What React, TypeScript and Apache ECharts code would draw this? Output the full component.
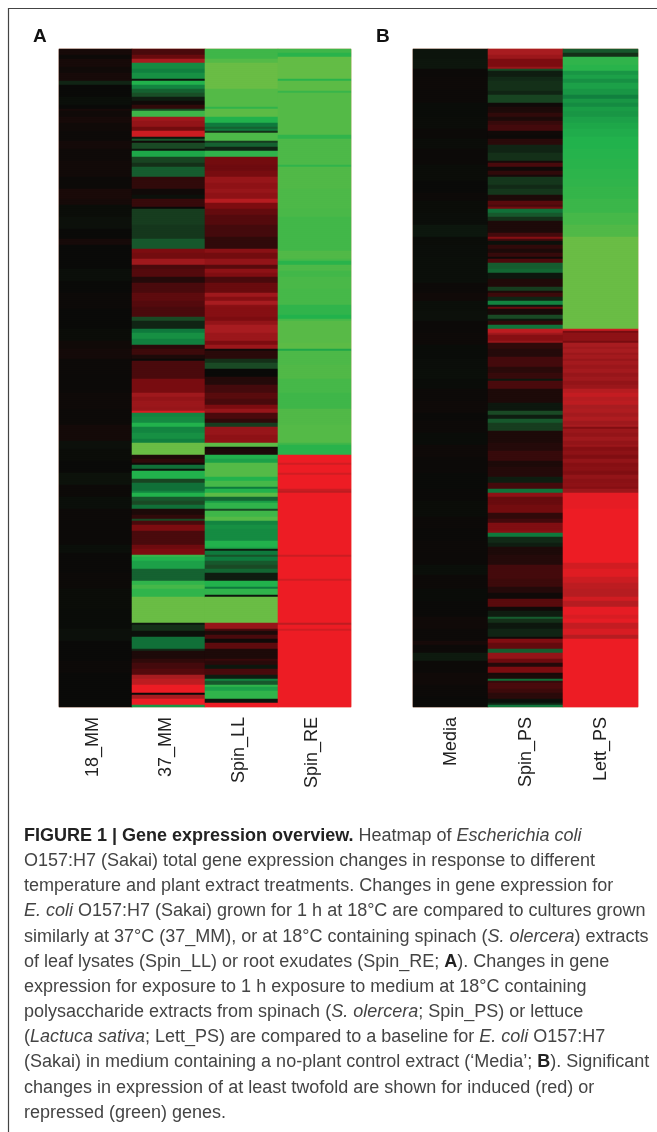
import React, { useEffect, useRef } from "react";
import * as echarts from "echarts";

type Run = [number, number];

const ROWS = 329;
const categoriesA = ["18_MM", "37_MM", "Spin_LL", "Spin_RE"];
const categoriesB = ["Media", "Spin_PS", "Lett_PS"];

const mm18: Run[] = [[3,.2],[5,.05],[9,.2],[12,.1],[16,.2],[18,-.4],[24,0],[28,-.08],[30,0],[31,.2],[34,.1],[37,.2],[41,.1],[46,.05],[50,.15],[56,.08],[64,.12],[70,.03],[75,.25],[78,.18],[84,-.05],[90,-.1],[95,0],[98,.2],[105,0],[110,0],[116,-.08],[122,0],[130,.05],[140,0],[146,-.05],[150,.1],[155,.15],[163,.05],[172,.03],[180,.08],[188,.05],[196,.15],[200,-.1],[206,-.05],[212,0],[218,-.12],[224,.05],[230,-.08],[236,.05],[248,.03],[252,-.08],[262,.02],[270,.05],[280,-.05],[290,-.03],[296,-.1],[306,0],[312,.05],[329,0]];
const mm37: Run[] = [[3,1],[5,1.6],[7,3],[10,-2.3],[12,-2.1],[15,-2.4],[16,-.2],[18,-3],[20,-2.2],[22,-1.5],[24,-1.1],[26,-.3],[28,.1],[30,.6],[31,-1],[34,-3.4],[36,2.8],[39,2.5],[41,1.8],[44,3.5],[45,-.2],[46,-1.2],[47,.1],[50,-1],[51,-.2],[54,-2.8],[57,-.9],[59,-.6],[64,-1.4],[70,.6],[73,.1],[75,-.1],[79,.7],[80,0],[88,-.8],[95,-.7],[100,-1.3],[102,2],[105,1.8],[108,2.8],[110,1],[114,1.2],[117,.4],[122,1],[126,1.4],[129,1.2],[134,1],[136,-1],[140,-.4],[142,-2],[145,-2.4],[148,-2.1],[150,.5],[153,.8],[155,.3],[156,0],[165,1],[172,1.9],[174,2.8],[176,2.5],[179,2.7],[181,2.6],[182,3.7],[184,-2.2],[187,-2.3],[189,-3],[192,-2.2],[195,-2.4],[197,-2.1],[203,-4],[205,.3],[207,.6],[208,.1],[210,-1.8],[211,-.2],[215,-3],[217,-.9],[221,-1.8],[222,-2.2],[224,-3],[226,-1.3],[228,-1],[230,-1.8],[233,.3],[235,.6],[236,-1],[238,1],[241,2],[248,1],[250,1.7],[253,2],[254,-3.3],[256,-3],[260,-2.7],[266,-1.5],[268,-3.2],[270,-3.5],[274,-3.2],[287,-4],[288,-.2],[291,-.6],[294,-.1],[300,-1.8],[301,-.5],[305,.3],[307,.6],[310,.9],[313,1.2],[315,3],[318,3.3],[322,4],[323,0],[325,3],[328,4],[329,-2.5]];
const spinLL: Run[] = [[5,-3.4],[7,-3.7],[20,-4],[29,-3.7],[30,-3.2],[34,-3.8],[37,-3],[39,-2],[40,-1.5],[41,-2],[42,-.6],[46,-3.6],[47,-.8],[49,-1.5],[51,-.4],[54,-3.2],[58,1.8],[61,1.7],[64,1.9],[67,2.6],[70,2.4],[72,2.6],[75,2.4],[77,3.2],[80,2],[83,1.5],[88,1.2],[94,.9],[100,.6],[102,2.3],[105,1.8],[108,2.5],[110,1.3],[112,2.4],[114,2.1],[117,1],[122,1.6],[124,2.8],[126,2.2],[128,3],[129,2.3],[134,2.2],[136,2],[138,2.5],[142,3],[146,2.7],[148,2],[150,2.7],[151,.1],[155,.5],[157,-.6],[160,-1],[164,0],[168,.4],[172,.9],[175,1.3],[178,1],[180,2],[182,2.6],[185,1],[187,.6],[189,-.8],[193,2.6],[197,2.4],[199,-3.8],[200,.1],[203,.3],[205,-3],[207,-2.7],[214,-3.7],[216,-3],[219,-3.5],[220,-2],[222,-3],[224,-3.8],[226,-1.6],[227,-2.6],[230,-3.2],[231,-1],[234,-3.4],[236,-3.7],[238,-2.2],[240,-2.4],[246,-2.3],[249,-3],[250,-2.8],[251,-.3],[253,-2],[254,-1.2],[256,-2],[258,-1.3],[260,-1],[262,-1.6],[266,-.3],[269,-3],[270,-2],[273,-3.2],[274,-.2],[287,-4],[290,2.6],[291,1],[293,.3],[295,1],[297,.1],[300,1.4],[305,.3],[306,.7],[308,.5],[310,-.2],[313,1],[315,-.3],[316,-2.2],[318,-1.3],[319,-3.2],[321,-2.7],[325,-3.2],[327,-.2],[329,4]];
const spinRE: Run[] = [[2,-3.4],[4,-3.1],[15,-3.9],[16,-3.1],[21,-3.8],[22,-3.3],[43,-3.7],[45,-3.2],[47,-3.6],[58,-3.6],[59,-3.2],[70,-3.65],[80,-3.6],[84,-3.55],[101,-3.45],[105,-3.65],[106,-3.5],[108,-3.1],[111,-3.6],[114,-3.45],[120,-3.55],[128,-3.5],[133,-3.2],[135,-3],[136,-3.5],[147,-3.75],[150,-3.8],[151,-2.8],[152,-3.6],[158,-3.6],[165,-3.65],[172,-3.5],[180,-3.4],[188,-3.65],[197,-3.7],[198,-3.4],[203,-3.1],[207,4],[208,3.6],[212,4],[213,3.6],[220,4],[221,3.5],[222,3.3],[253,4],[254,3.5],[265,4],[266,3.6],[287,4],[288,3.3],[290,4],[291,3.6],[329,4]];

const media: Run[] = [[5,-.15],[10,-.18],[14,.03],[20,.06],[27,.05],[34,-.03],[40,-.05],[45,.03],[50,-.05],[58,.03],[66,-.05],[72,0],[76,.05],[82,-.05],[88,-.06],[94,-.2],[98,-.05],[104,-.06],[111,-.08],[117,-.08],[122,.04],[126,.1],[131,-.08],[136,-.1],[142,.03],[148,.06],[155,-.03],[160,-.06],[165,-.08],[170,-.03],[176,.05],[182,.08],[186,.02],[192,.05],[198,-.03],[204,.08],[212,.03],[220,-.01],[226,.01],[234,-.05],[240,.05],[246,.02],[252,.05],[258,.03],[263,-.08],[270,.05],[276,-.03],[284,.02],[290,.1],[296,.05],[298,.2],[302,.05],[306,-.25],[312,.03],[318,.1],[324,.05],[329,.02]];
const spinPS: Run[] = [[3,3],[5,2.7],[9,2],[10,2.6],[11,-1],[14,-.3],[16,-.5],[21,-.6],[23,-.4],[27,-.9],[29,.1],[32,.3],[34,.6],[36,.3],[38,.7],[41,.9],[43,.1],[45,.05],[48,.5],[52,-.4],[56,-.6],[57,.2],[59,1],[61,.1],[63,.6],[64,.2],[68,-.7],[70,-.5],[73,-.7],[76,.3],[78,1.3],[79,1],[80,1.8],[82,-1.8],[84,-1.3],[86,-.6],[92,.3],[94,.9],[95,2.2],[96,.9],[98,-.1],[100,.6],[102,.3],[104,.7],[105,.1],[107,1.1],[110,-1.4],[112,-1.6],[115,-.2],[119,.35],[121,-.8],[122,.3],[124,.8],[126,-.4],[128,-2.2],[129,-.2],[130,1.6],[133,.2],[135,-1],[136,-.2],[138,.6],[140,-1.9],[142,3.3],[143,2.8],[146,2.2],[147,2.6],[150,.6],[154,.4],[159,.9],[162,.5],[165,.7],[166,-.2],[170,1],[177,.3],[181,-.2],[183,-1],[185,-.3],[187,-1.3],[191,-.8],[197,.3],[201,.4],[206,.7],[209,.3],[214,.4],[217,-.3],[220,.9],[222,-1.9],[224,2.4],[228,1.6],[232,1.8],[235,.6],[237,.9],[241,2.1],[242,2.3],[244,-2],[247,-.5],[249,-.3],[253,.3],[258,.4],[265,.9],[269,.8],[272,.4],[275,.1],[279,1.3],[281,.1],[284,-.3],[285,-1.4],[287,-.6],[290,-.2],[294,-.4],[295,.1],[297,2.1],[300,1.5],[302,-1.4],[305,2.5],[307,1.7],[309,.4],[312,2],[313,.2],[315,.3],[316,-1.8],[317,.7],[320,1],[322,.8],[325,.5],[327,-.1],[328,-.4],[329,-1.9]];
const lettPS: Run[] = [[2,-1.3],[4,-.6],[8,-3.2],[11,-3.1],[13,-2.5],[15,-2.7],[17,-2.4],[20,-2.7],[23,-2.5],[25,-2.1],[27,-2.5],[29,-2.3],[31,-2.6],[34,-2.5],[37,-2.7],[40,-2.8],[44,-2.9],[50,-3],[55,-3.05],[60,-3.1],[65,-3.15],[69,-3.2],[75,-3.25],[82,-3.35],[88,-3.5],[94,-3.65],[140,-4],[141,3.5],[142,1.9],[146,2.4],[147,1.9],[149,3],[150,2.8],[152,3],[153,2.7],[155,2.9],[156,2.6],[158,2.9],[160,2.7],[162,2.9],[164,2.6],[166,2.8],[168,2.5],[170,2.7],[172,3.2],[174,3.4],[176,3.2],[178,3.3],[180,3],[182,3.1],[184,2.9],[186,3.1],[188,2.8],[189,3],[190,2.1],[192,2.7],[194,2.5],[196,2.8],[198,2.5],[199,2.7],[201,2.2],[203,2.4],[205,2.1],[207,2.5],[209,2.2],[211,2.3],[213,2.1],[215,2.5],[217,2.3],[219,2.4],[220,2.2],[222,2.7],[230,3.9],[257,4],[260,3.6],[264,3.8],[267,3.5],[270,3.3],[274,3.2],[276,3.6],[279,3.2],[283,3.9],[285,3.7],[287,3.9],[290,3.4],[293,3.7],[295,3.2],[329,4]];

// Caption lines, with ECharts rich-text markers for bold and italic runs.
const caption = [
  "{b|FIGURE 1 | Gene expression overview.} Heatmap of {i|Escherichia coli}",
  "O157:H7 (Sakai) total gene expression changes in response to different",
  "temperature and plant extract treatments. Changes in gene expression for",
  "{i|E. coli} O157:H7 (Sakai) grown for 1 h at 18°C are compared to cultures grown",
  "similarly at 37°C (37_MM), or at 18°C containing spinach ({i|S. olercera}) extracts",
  "of leaf lysates (Spin_LL) or root exudates (Spin_RE; {b|A}). Changes in gene",
  "expression for exposure to 1 h exposure to medium at 18°C containing",
  "polysaccharide extracts from spinach ({i|S. olercera}; Spin_PS) or lettuce",
  "({i|Lactuca sativa}; Lett_PS) are compared to a baseline for {i|E. coli} O157:H7",
  "(Sakai) in medium containing a no-plant control extract (‘Media’; {b|B}). Significant",
  "changes in expression of at least twofold are shown for induced (red) or",
  "repressed (green) genes.",
];

const expand = (runs: Run[]): number[] => {
  const out: number[] = [];
  for (const [until, v] of runs) while (out.length < until) out.push(v);
  return out.slice(0, ROWS);
};
const cells = (cols: Run[][]) => {
  const d: number[][] = [];
  cols.forEach((c, x) => expand(c).forEach((v, y) => d.push([x, y, v])));
  return d;
};
const rowNames = Array.from({ length: ROWS }, (_, i) => String(i));
const FONT = '"Liberation Sans", Arial, sans-serif';
const CAPTION_SIZE = 18;

export default function App() {
  const ref = useRef<HTMLDivElement>(null);
  useEffect(() => {
    const chart = echarts.init(ref.current!, undefined, { renderer: "svg", width: 657, height: 1132 });
    const xAxis = (data: string[], gridIndex: number, shift: number) => ({
      type: "category" as const, data, gridIndex,
      axisLine: { show: false }, axisTick: { show: false }, splitLine: { show: false },
      axisLabel: {
        rotate: 90, margin: 10, interval: 0,
        formatter: (v: string) => `{a|${v}}`,
        rich: { a: { color: "#222", fontFamily: FONT, fontSize: 18, padding: [0, 0, shift, 0] } },
      },
    });
    const yAxis = (gridIndex: number) => ({
      type: "category" as const, data: rowNames, gridIndex, inverse: true, show: false,
    });
    const series = (i: number, data: number[][]) => ({
      type: "heatmap" as const, xAxisIndex: i, yAxisIndex: i, data, progressive: 0,
      itemStyle: { borderWidth: 0 }, emphasis: { disabled: true },
    });
    chart.setOption({
      animation: false,
      backgroundColor: "#fff",
      tooltip: { show: false },
      grid: [
        { left: 59, top: 49, width: 292, height: 658, show: true, borderColor: "#f3c3ad", borderWidth: 1, backgroundColor: "transparent" },
        { left: 413, top: 49, width: 225, height: 658, show: true, borderColor: "#f3c3ad", borderWidth: 1, backgroundColor: "transparent" },
      ],
      xAxis: [xAxis(categoriesA, 0, 7), xAxis(categoriesB, 1, 2)],
      yAxis: [yAxis(0), yAxis(1)],
      visualMap: {
        show: false, min: -4, max: 4, seriesIndex: [0, 1],
        inRange: { color: ["#6abd45", "#22b24c", "#0f7a3d", "#1a4a25", "#0a0a08", "#4a0a0c", "#7d0c10", "#a81c20", "#ed1c24"] },
      },
      series: [series(0, cells([mm18, mm37, spinLL, spinRE])), series(1, cells([media, spinPS, lettPS]))],
      graphic: [
        { type: "polyline", silent: true, shape: { points: [[657, 8.5], [8.5, 8.5], [8.5, 1132]] }, style: { stroke: "#444", lineWidth: 1.2, fill: "none" } },
        { type: "text", x: 33, y: 26, style: { text: "A", font: `bold 19px ${FONT}`, fill: "#111" } },
        { type: "text", x: 376, y: 26, style: { text: "B", font: `bold 19px ${FONT}`, fill: "#111" } },
        ...caption.map((t, i) => ({
          type: "text", x: 24, y: 826 + i * 25.15,
          style: {
            text: t, fill: "#444", font: `${CAPTION_SIZE}px ${FONT}`,
            rich: {
              b: { fontFamily: FONT, fontSize: CAPTION_SIZE, fontWeight: "bold", fill: "#222" },
              i: { fontFamily: FONT, fontSize: CAPTION_SIZE, fontStyle: "italic", fill: "#444" },
            },
          },
        })),
      ],
    });
    return () => chart.dispose();
  }, []);
  return <div ref={ref} style={{ position: "absolute", left: 0, top: 0, width: 657, height: 1132, filter: "blur(0.35px)" }} />;
}
